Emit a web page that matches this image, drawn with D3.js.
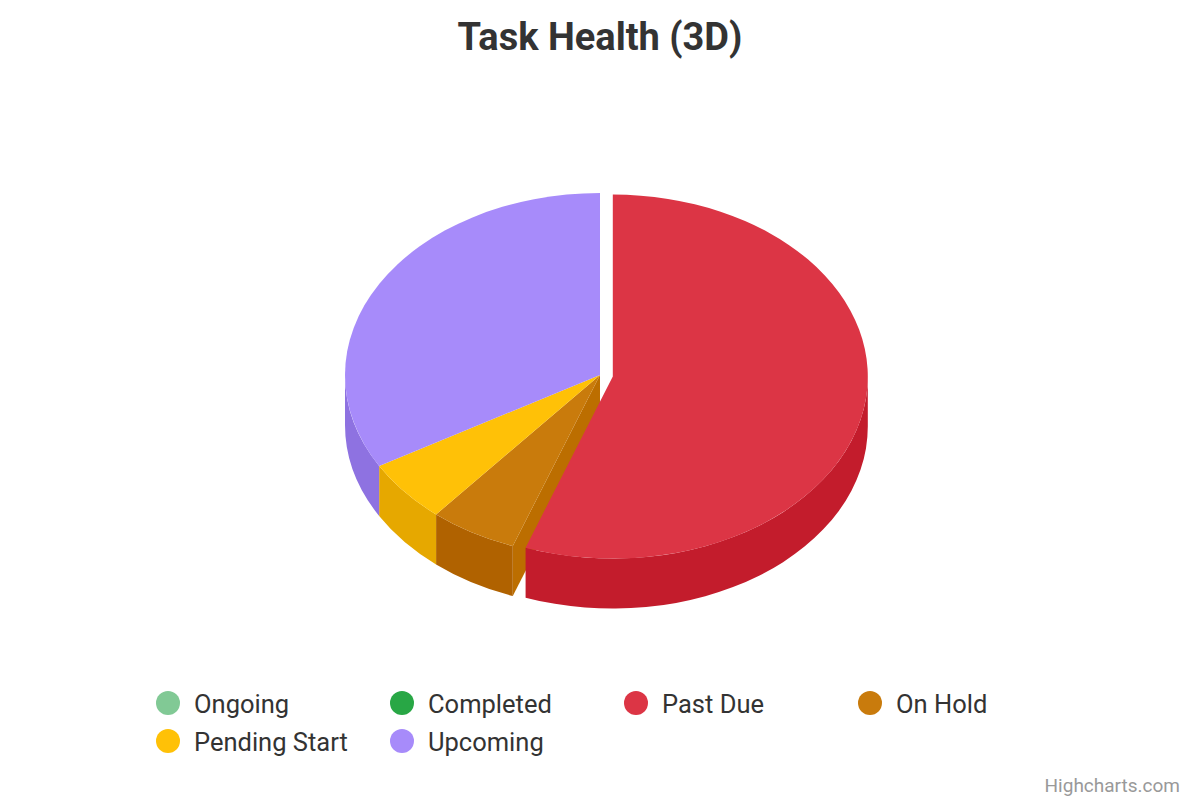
<!DOCTYPE html>
<html>
<head>
<meta charset="utf-8">
<script src="https://cdn.jsdelivr.net/npm/d3@7"></script>
<style>
  html, body { margin: 0; padding: 0; background: #ffffff; }
  #vis { width: 1200px; height: 800px; }
  .title { font-family: Roboto, sans-serif; font-weight: bold; font-size: 38px; fill: #333333; }
  .legend-label { font-family: Roboto, sans-serif; font-size: 25.5px; fill: #333333; }
  .credits { font-family: Roboto, sans-serif; font-size: 19px; fill: #999999; }
</style>
</head>
<body>
<div id="vis"></div>
<script>
// chart data
const categories = ["Ongoing", "Completed", "Past Due", "On Hold", "Pending Start", "Upcoming"];
const values = [0, 0, 10, 1, 1, 6];
const sliceColors = ["#81c995", "#28a745", "#dc3545", "#c97b0c", "#ffc107", "#a78bfa"];
const slicedFlags = [false, false, true, false, false, false];

const width = 1200;
const height = 800;

const svg = d3.select("#vis")
    .append("svg")
    .attr("width", width)
    .attr("height", height);

const pie3d = { cx: 600, cy: 375, rx: 255, ry: 182, depth: 50, offset: 13 };

const color = d3.scaleOrdinal()
    .domain(categories)
    .range(sliceColors);

// highcharts style brighten
function shade(c, k) {
    const col = d3.rgb(c);
    return d3.rgb(col.r + 255 * k, col.g + 255 * k, col.b + 255 * k).formatHex();
}

const data = categories.map((c, i) => ({ name: c, value: values[i], sliced: slicedFlags[i] }));

const arcs = d3.pie()
    .sort(null)
    .value(d => d.value)
    .startAngle(0)
    .endAngle(2 * Math.PI)(data);

// project a point on the tilted ellipse; angle clockwise from top
function proj(a, z, o) {
    return [
        pie3d.cx + o[0] + pie3d.rx * Math.sin(a),
        pie3d.cy + o[1] - pie3d.ry * Math.cos(a) + z
    ];
}

arcs.forEach(d => {
    const mid = (d.startAngle + d.endAngle) / 2;
    const off = d.data.sliced ? pie3d.offset : 0;
    d.o = [off * Math.sin(mid), -off * Math.cos(mid) * pie3d.ry / pie3d.rx];
});

const visibleArcs = arcs.filter(d => d.value > 0);

function topPath(d) {
    const p = d3.path();
    const s = proj(d.startAngle, 0, d.o);
    const e = proj(d.endAngle, 0, d.o);
    p.moveTo(pie3d.cx + d.o[0], pie3d.cy + d.o[1]);
    p.lineTo(s[0], s[1]);
    const large = d.endAngle - d.startAngle > Math.PI ? 1 : 0;
    return p.toString() + `A${pie3d.rx},${pie3d.ry} 0 ${large} 1 ${e[0]},${e[1]}Z`;
}

function sidePath(d) {
    const a = Math.max(d.startAngle, Math.PI / 2);
    const b = Math.min(d.endAngle, 3 * Math.PI / 2);
    if (b <= a) return null;
    const p1 = proj(a, 0, d.o), p2 = proj(b, 0, d.o);
    const p3 = proj(b, pie3d.depth, d.o), p4 = proj(a, pie3d.depth, d.o);
    const large = b - a > Math.PI ? 1 : 0;
    return `M${p1[0]},${p1[1]}A${pie3d.rx},${pie3d.ry} 0 ${large} 1 ${p2[0]},${p2[1]}` +
        `L${p3[0]},${p3[1]}A${pie3d.rx},${pie3d.ry} 0 ${large} 0 ${p4[0]},${p4[1]}Z`;
}

function wallPath(d, a) {
    const c0 = [pie3d.cx + d.o[0], pie3d.cy + d.o[1]];
    const e0 = proj(a, 0, d.o);
    const e1 = proj(a, pie3d.depth, d.o);
    return `M${c0[0]},${c0[1]}L${e0[0]},${e0[1]}L${e1[0]},${e1[1]}L${c0[0]},${c0[1] + pie3d.depth}Z`;
}

// radial walls that face the viewer and are exposed by a sliced neighbour
const walls = [];
visibleArcs.forEach((d, i) => {
    const prev = visibleArcs[(i - 1 + visibleArcs.length) % visibleArcs.length];
    const next = visibleArcs[(i + 1) % visibleArcs.length];
    if (-Math.cos(d.startAngle - Math.PI / 2) > 0.01 && (d.data.sliced || prev.data.sliced)) {
        walls.push({ d: d, a: d.startAngle });
    }
    if (-Math.cos(d.endAngle + Math.PI / 2) > 0.01 && (d.data.sliced || next.data.sliced)) {
        walls.push({ d: d, a: d.endAngle });
    }
});

const g = svg.append("g");

g.selectAll(".wall")
    .data(walls)
    .join("path")
    .attr("class", "wall")
    .attr("d", w => wallPath(w.d, w.a))
    .attr("fill", w => shade(color(w.d.data.name), -0.05));

g.selectAll(".side")
    .data(visibleArcs.filter(d => sidePath(d)))
    .join("path")
    .attr("class", "side")
    .attr("d", sidePath)
    .attr("fill", d => shade(color(d.data.name), -0.1));

g.selectAll(".top")
    .data(visibleArcs)
    .join("path")
    .attr("class", "top")
    .attr("d", topPath)
    .attr("fill", d => color(d.data.name));

// title
svg.append("text")
    .attr("class", "title")
    .attr("x", width / 2)
    .attr("y", 50)
    .attr("text-anchor", "middle")
    .text("Task Health (3D)");

// legend
const legendX = d3.scalePoint()
    .domain([0, 1, 2, 3])
    .range([168, 870]);
const legendY = d3.scalePoint()
    .domain([0, 1])
    .range([703, 741]);

const items = svg.selectAll(".legend-item")
    .data(categories)
    .join("g")
    .attr("class", "legend-item")
    .attr("transform", (d, i) => `translate(${legendX(i % 4)},${legendY(Math.floor(i / 4))})`);

items.append("circle")
    .attr("r", 12)
    .attr("fill", d => color(d));

items.append("text")
    .attr("class", "legend-label")
    .attr("x", 26)
    .attr("y", 9.5)
    .text(d => d);

// credits
svg.append("text")
    .attr("class", "credits")
    .attr("x", 1180)
    .attr("y", 792)
    .attr("text-anchor", "end")
    .text("Highcharts.com");
</script>
</body>
</html>
